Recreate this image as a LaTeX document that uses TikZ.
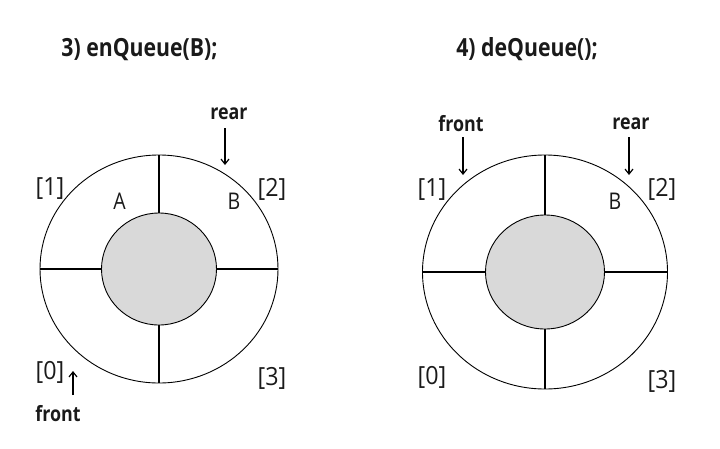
\documentclass[tikz,border=0pt]{standalone}
\usepackage{fontspec}
\setmainfont{Open Sans}
\newfontfamily\narrowfont[FakeStretch=0.85]{Open Sans}
\newfontfamily\idxfont[FakeStretch=0.93]{Open Sans}
\usetikzlibrary{arrows.meta}
\definecolor{hub}{HTML}{D9D9D9}
\definecolor{ink}{HTML}{1A1A1A}
\tikzset{
  title/.style={anchor=base,font=\narrowfont\fontsize{25}{28}\selectfont\bfseries,text=ink,inner sep=0pt},
  idx/.style={anchor=base,font=\idxfont\fontsize{25}{28}\selectfont,text=ink,inner sep=0pt},
  val/.style={anchor=base,font=\narrowfont\fontsize{23}{26}\selectfont,text=ink,inner sep=0pt},
  ptr/.style={anchor=base,font=\narrowfont\fontsize{21}{24}\selectfont\bfseries,text=ink,inner sep=0pt},
  ring/.style={draw=black,line width=0.9pt},
  core/.style={draw=black,line width=0.9pt,fill=hub},
  spoke/.style={draw=black,line width=1.6pt},
  pointer/.style={draw=black,line width=1.2pt,-{Straight Barb[length=5pt,width=8pt]}}
}
\begin{document}
\begin{tikzpicture}[x=1pt,y=-1pt]
\useasboundingbox (0,0) rectangle (720,448);
% ---------- left: enQueue(B)
\node[title] (t1) at (139.5,56) {3) enQueue(B);};
\path[ring] (159,269) ellipse [x radius=119pt, y radius=114pt];
\path[spoke] (159,155) -- (159,213);
\path[spoke] (159,325) -- (159,383);
\path[spoke] (40,269) -- (102,269);
\path[spoke] (217,269) -- (278,269);
\path[core] (159,269) ellipse [x radius=57.5pt, y radius=56pt];
\node[idx] (l1) at (50,195) {[1]};
\node[idx] (l2) at (272,196) {[2]};
\node[idx] (l0) at (50,379) {[0]};
\node[idx] (l3) at (272,385) {[3]};
\node[val] (la) at (119.5,209) {A};
\node[val] (lb) at (234,209) {B};
\node[ptr] (lrear) at (229,119) {rear};
\coordinate (lrs) at (225,128);
\coordinate (lre) at (225,165);
\draw[pointer] (lrs) -- (lre);
\node[ptr] (lfront) at (58,421) {front};
\coordinate (lfs) at (73,395);
\coordinate (lfe) at (73,371);
\draw[pointer] (lfs) -- (lfe);
% ---------- right: deQueue()
\node[title] (t2) at (527,56) {4) deQueue();};
\path[ring] (545,272) ellipse [x radius=122.5pt, y radius=117pt];
\path[spoke] (545,155) -- (545,215);
\path[spoke] (545,329) -- (545,389);
\path[spoke] (422.5,272) -- (485.5,272);
\path[spoke] (604.5,272) -- (667.5,272);
\path[core] (545,272) ellipse [x radius=59.5pt, y radius=57pt];
\node[idx] (r1) at (432,196) {[1]};
\node[idx] (r2) at (662,196) {[2]};
\node[idx] (r0) at (432,384) {[0]};
\node[idx] (r3) at (662,388) {[3]};
\node[val] (rb) at (615,209) {B};
\node[ptr] (rfront) at (461,131) {front};
\coordinate (rfs) at (463,137);
\coordinate (rfe) at (463,175);
\draw[pointer] (rfs) -- (rfe);
\node[ptr] (rrear) at (631,129) {rear};
\coordinate (rrs) at (629,137);
\coordinate (rre) at (629,175);
\draw[pointer] (rrs) -- (rre);
\end{tikzpicture}
\end{document}
